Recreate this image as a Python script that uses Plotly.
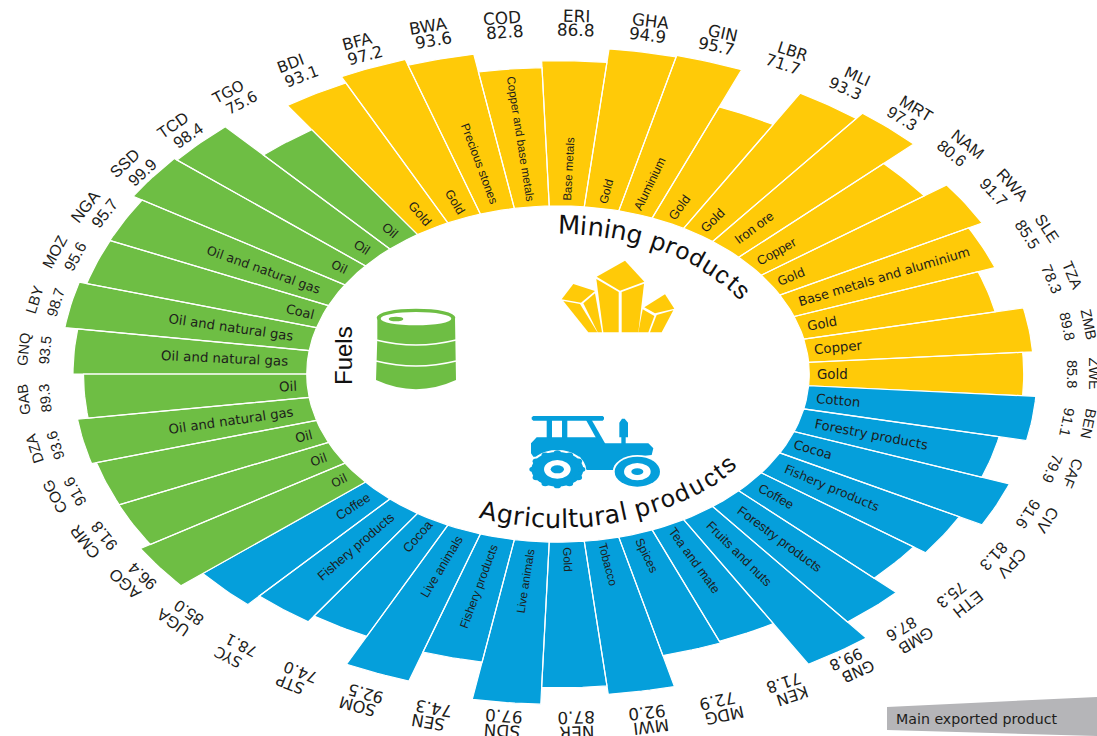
import math
import numpy as np
import plotly.graph_objects as go

# ---------- data ----------
mining_codes = ["BDI","BFA","BWA","COD","ERI","GHA","GIN","LBR","MLI","MRT","NAM","RWA","SLE","TZA","ZMB","ZWE"]
mining_values = [93.1,97.2,93.6,82.8,86.8,94.9,95.7,71.7,93.3,97.3,80.6,91.7,85.5,78.3,89.8,85.8]
mining_products = ["Gold","Gold","Precious stones","Copper and base metals","Base metals","Gold","Aluminium","Gold","Gold",
                   "Iron ore","Copper","Gold","Base metals and aluminium","Gold","Copper","Gold"]

agri_codes = ["BEN","CAF","CIV","CPV","ETH","GMB","GNB","KEN","MDG","MWI","NER","SDN","SEN","SOM","STP","SYC","UGA"]
agri_values = [91.1,79.9,91.6,81.3,75.3,87.6,99.8,71.8,72.9,92.0,87.0,97.0,74.3,92.5,74.0,78.1,85.0]
agri_products = ["Cotton","Forestry products","Cocoa","Fishery products","Coffee","Forestry products","Fruits and nuts",
                 "Tea and mate","Spices","Tobacco","Gold","Live animals","Fishery products","Live animals","Cocoa",
                 "Fishery products","Coffee"]

fuel_codes = ["AGO","CMR","COG","DZA","GAB","GNQ","LBY","MOZ","NGA","SSD","TCD","TGO"]
fuel_values = [96.4,91.8,91.6,93.6,89.3,93.5,98.7,95.6,95.7,99.9,98.4,75.6]
fuel_products = ["Oil","Oil","Oil","Oil and natural gas","Oil","Oil and natural gas","Oil and natural gas","Coal",
                 "Oil and natural gas","Oil","Oil","Oil"]

# ---------- geometry ----------
W, H = 1097, 736
CX, CY = 558.0, 374.0
PX, PY = 2.5, 1.673          # pixels per data unit
INNER = 100.5
START, STEP = -34.0, 8.0
YELLOW, BLUE, GREEN = "#FFCA08", "#059FDB", "#6EBE44"
TXT = "#1d1d1b"
ASPECT = PX / PY

fig = go.Figure()
groups = [(mining_codes, mining_values, mining_products, YELLOW),
          (agri_codes, agri_values, agri_products, BLUE),
          (fuel_codes, fuel_values, fuel_products, GREEN)]


def polar(r, deg):
    t = math.radians(deg)
    return r * math.sin(t), r * math.cos(t)


def pick(s, base):
    if s < 1.32:
        return dict(family="Liberation Sans", size=min(base * s / 0.9, base * 1.25), color=TXT)
    return dict(family="DejaVu Sans", size=base * s / 1.16, color=TXT)


def note(x, y, text, angle, font):
    fig.add_annotation(x=x, y=y, text=text, textangle=angle, font=font, showarrow=False,
                       xanchor="center", yanchor="middle", xref="x", yref="y")


idx = 0
for codes, values, products, color in groups:
    xs, ys = [], []
    for code, val, prod in zip(codes, values, products):
        a0 = START + idx * STEP
        arc = np.linspace(a0, a0 + STEP, 9)
        poly = [polar(INNER, d) for d in arc] + [polar(INNER + val, d) for d in arc[::-1]]
        poly.append(poly[0])
        xs += [p[0] for p in poly] + [None]
        ys += [p[1] for p in poly] + [None]

        mid = (a0 + STEP / 2) % 360
        t = math.radians(mid)
        # country code and value, tangent to the ring
        tang = math.degrees(math.atan2(PY * math.sin(t), PX * math.cos(t)))
        s_t = math.hypot(ASPECT * math.cos(t), math.sin(t))
        f = pick(s_t, 13.1)
        note(*polar(214.2, mid), code, tang, f)
        note(*polar(205.6, mid), f"{val:.1f}", tang, f)
        # product, radial, reading toward the centre on the left half
        dx, dy = PX * math.sin(t), -PY * math.cos(t)
        rad = math.degrees(math.atan2(dy, dx)) if mid < 180 else math.degrees(math.atan2(-dy, -dx))
        s_r = math.hypot(ASPECT * math.sin(t), math.cos(t))
        per_char = 1.72 if s_r < 1.32 else 1.57
        rc = INNER + 3.2 + len(prod) * per_char
        note(*polar(rc, mid), prod, rad, pick(s_r, 10.4))
        idx += 1
    fig.add_trace(go.Scatter(x=xs, y=ys, mode="lines", fill="toself", fillcolor=color,
                             line=dict(color="white", width=1.2), hoverinfo="skip", showlegend=False))

# ---------- curved titles ----------
ADV = {"i": .28, "l": .28, "m": .97, "r": .41, "t": .39, "c": .55, "s": .52, "A": .68, "M": .86, " ": .32,
       "f": .35, "u": .63, "n": .63, "g": .63, "o": .61, "d": .63, "p": .63, "a": .61, "e": .61}


def curved(text, r, a0, a1):
    th = np.linspace(a0, a1, 400)
    tr = np.radians(th)
    px = r * PX * np.sin(tr)
    py = r * PY * np.cos(tr)
    cum = np.concatenate([[0], np.cumsum(np.hypot(np.diff(px), np.diff(py)))])
    w = [ADV.get(c, .6) for c in text]
    tot = sum(w)
    run = 0.0
    for c, wc in zip(text, w):
        frac = (run + wc / 2) / tot
        run += wc
        if c == " ":
            continue
        d = float(np.interp(frac * cum[-1], cum, th))
        t = math.radians(d)
        sign = 1 if a1 > a0 else -1
        ang = math.degrees(math.atan2(sign * PY * math.sin(t), sign * PX * math.cos(t)))
        s_t = math.hypot(ASPECT * math.cos(t), math.sin(t))
        f = pick(s_t, 20.0)
        f["color"] = "#111111"
        note(*polar(r, d), c, ang, f)


curved("Mining products", 89.0, 0.0, 58.0)
curved("Agricultural products", 86.5, 201.0, 126.0)
note((343 - CX) / PX, (CY - 356) / PY, "Fuels", -90, dict(family="Liberation Sans", size=24, color="#111111"))


# ---------- icons (decorative shapes, from pixel positions) ----------
def zx(v):
    return (320 + v / 3 - CX) / PX


def zy(v):
    return (CY - (230 + v / 3)) / PY


def path(pts, close=True):
    s = "M " + " L ".join(f"{zx(a):.2f} {zy(b):.2f}" for a, b in pts)
    return s + (" Z" if close else "")


def poly(pts, color):
    fig.add_shape(type="path", path=path(pts), fillcolor=color, line=dict(width=0), layer="above")


def ell(cx, cy, rx, ry, color):
    fig.add_shape(type="circle", x0=zx(cx - rx), x1=zx(cx + rx), y0=zy(cy + ry), y1=zy(cy - ry),
                  fillcolor=color, line=dict(width=0), layer="above")


# crystals
for pts in [
    [(830, 140), (915, 92), (973, 155), (900, 182)],
    [(829, 147), (896, 186), (896, 307), (850, 307)],
    [(905, 186), (972, 161), (955, 307), (905, 307)],
    [(725, 208), (760, 162), (825, 183), (783, 218)],
    [(730, 213), (780, 222), (832, 307), (805, 307)],
    [(790, 220), (825, 190), (846, 307), (833, 307)],
    [(973, 232), (1035, 193), (1063, 236), (1005, 250)],
    [(968, 238), (1003, 258), (985, 307), (955, 307)],
    [(1010, 255), (1060, 241), (1025, 307), (990, 307)],
]:
    poly(pts, YELLOW)

# barrel
body = (f"M {zx(172):.2f} {zy(265):.2f} L {zx(172):.2f} {zy(325):.2f} L {zx(168):.2f} {zy(450):.2f} "
        f"Q {zx(288):.2f} {zy(505):.2f} {zx(408):.2f} {zy(450):.2f} L {zx(405):.2f} {zy(265):.2f} Z")
fig.add_shape(type="path", path=body, fillcolor=GREEN, line=dict(width=0), layer="above")
ell(288, 263, 118, 27, GREEN)
ell(288, 266, 106, 20, "white")
ell(228, 267, 22, 7, GREEN)
for yy in (330, 393):
    p = (f"M {zx(168):.2f} {zy(yy):.2f} Q {zx(288):.2f} {zy(yy + 30):.2f} {zx(408):.2f} {zy(yy):.2f}")
    fig.add_shape(type="path", path=p, line=dict(color="white", width=1.6), layer="above")

# tractor
poly([(635, 562), (640, 558), (848, 558), (852, 562), (852, 568), (848, 572), (640, 572), (635, 568)], BLUE)
poly([(680, 570), (696, 570), (696, 630), (680, 630)], BLUE)
poly([(726, 570), (742, 570), (742, 630), (726, 630)], BLUE)
poly([(798, 570), (815, 570), (858, 645), (840, 645)], BLUE)
poly([(633, 640), (650, 622), (835, 622), (850, 640), (985, 640), (1000, 655), (995, 675), (930, 682), (880, 720),
      (800, 720), (780, 680), (640, 680), (633, 670)], BLUE)
poly([(898, 578), (906, 566), (914, 566), (924, 578), (924, 622), (917, 622), (917, 642), (904, 642), (904, 622), (898, 622)], BLUE)
ell(712, 718, 86, 58, "white")
ell(952, 725, 74, 50, "white")
ell(712, 718, 78, 52, BLUE)
for k in range(12):
    a = math.radians(k * 30)
    ell(712 + 73 * math.cos(a), 718 + 49 * math.sin(a), 11, 8, BLUE)
ell(712, 718, 40, 28, "white")
ell(712, 718, 20, 12, BLUE)
ell(952, 725, 68, 45, BLUE)
ell(952, 725, 40, 26, "white")
ell(952, 725, 18, 10, BLUE)

# legend tag
fig.add_shape(type="path",
              path=(f"M {(887 - CX) / PX:.2f} {(CY - 707) / PY:.2f} L {(1097 - CX) / PX:.2f} {(CY - 697) / PY:.2f} "
                    f"L {(1097 - CX) / PX:.2f} {(CY - 736) / PY:.2f} L {(887 - CX) / PX:.2f} {(CY - 730) / PY:.2f} Z"),
              fillcolor="#B5B5B8", line=dict(width=0), layer="below")
fig.add_annotation(x=(894 - CX) / PX, y=(CY - 719) / PY, text="Main exported product", showarrow=False, xanchor="left",
                   yanchor="middle", font=dict(family="DejaVu Sans", size=14.2, color=TXT))

fig.update_layout(width=W, height=H, margin=dict(l=0, r=0, t=0, b=0), paper_bgcolor="white", plot_bgcolor="white",
                  showlegend=False, hovermode=False,
                  xaxis=dict(visible=False, range=[-CX / PX, (W - CX) / PX], fixedrange=True),
                  yaxis=dict(visible=False, range=[(CY - H) / PY, CY / PY], fixedrange=True))
fig.write_html("out.html", config={"displayModeBar": False},
               post_script="document.body.style.margin='0';document.documentElement.style.overflow='hidden';")
